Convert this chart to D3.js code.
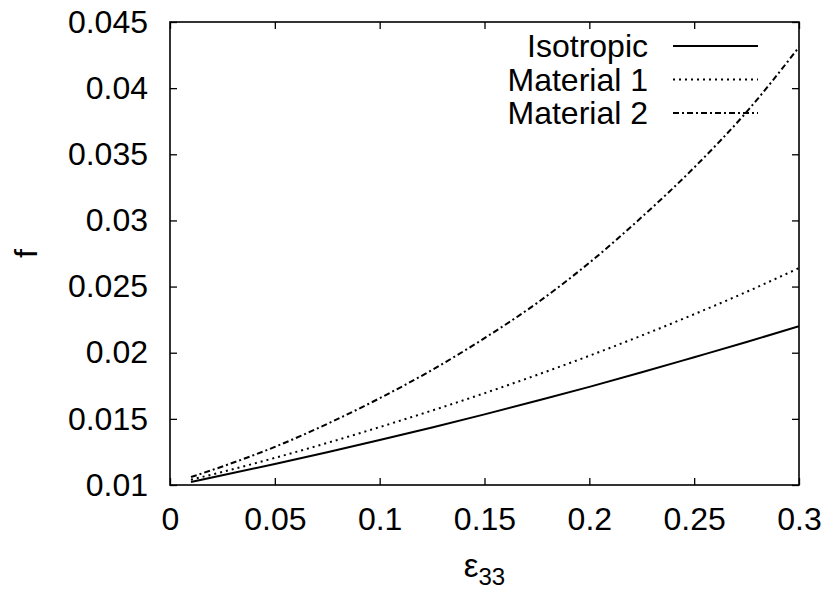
<!DOCTYPE html>
<html>
<head>
<meta charset="utf-8">
<script src="https://cdn.jsdelivr.net/npm/d3@7"></script>
<style>
  html, body { margin: 0; padding: 0; background: #fff; }
  svg { display: block; }
  text { font-family: "Liberation Sans", Arial, Helvetica, sans-serif; fill: #000; }
</style>
</head>
<body>
<svg id="chart" width="831" height="593"></svg>
<script>
// ---- data ----
const strain = [0.01, 0.025, 0.05, 0.075, 0.1, 0.125, 0.15, 0.175, 0.2, 0.225, 0.25, 0.275, 0.3];
const isotropic = [0.01023, 0.01073, 0.01159, 0.01248, 0.01340, 0.01435, 0.01534, 0.01637, 0.01742, 0.01852, 0.01966, 0.02081, 0.02200];
const material1 = [0.01040, 0.01099, 0.01205, 0.01318, 0.01438, 0.01563, 0.01694, 0.01832, 0.01977, 0.02130, 0.02291, 0.02460, 0.02640];
const material2 = [0.01060, 0.01140, 0.01288, 0.01462, 0.01656, 0.01870, 0.02110, 0.02375, 0.02680, 0.03025, 0.03400, 0.03820, 0.04310];
const seriesNames = ["Isotropic", "Material 1", "Material 2"];
const xTicks = [0, 0.05, 0.1, 0.15, 0.2, 0.25, 0.3];
const xTickLabels = ["0", "0.05", "0.1", "0.15", "0.2", "0.25", "0.3"];
const yTicks = [0.01, 0.015, 0.02, 0.025, 0.03, 0.035, 0.04, 0.045];
const yTickLabels = ["0.01", "0.015", "0.02", "0.025", "0.03", "0.035", "0.04", "0.045"];

// ---- layout ----
const svg = d3.select("#chart");
const L = 170, R = 799, T = 22, B = 485;
const x = d3.scaleLinear().domain([0, 0.3]).range([L, R]);
const y = d3.scaleLinear().domain([0.01, 0.045]).range([B, T]);
const FS = 32;

const series = [
  { name: seriesNames[0], values: isotropic, dash: null },
  { name: seriesNames[1], values: material1, dash: "2,4" },
  { name: seriesNames[2], values: material2, dash: "6,3,2,3" }
];

svg.append("defs").append("clipPath").attr("id", "clip")
  .append("rect").attr("x", L).attr("y", T).attr("width", R - L).attr("height", B - T);

// axes
const fmtX = d => xTickLabels[xTicks.indexOf(d)];
const fmtY = d => yTickLabels[yTicks.indexOf(d)];

const gB = svg.append("g").attr("transform", `translate(0,${B})`)
  .call(d3.axisBottom(x).tickValues(xTicks).tickFormat(fmtX).tickSizeInner(-7).tickSizeOuter(0).tickPadding(22));
const gT = svg.append("g").attr("transform", `translate(0,${T})`)
  .call(d3.axisTop(x).tickValues(xTicks).tickFormat("").tickSizeInner(-7).tickSizeOuter(0));
const gL = svg.append("g").attr("transform", `translate(${L},0)`)
  .call(d3.axisLeft(y).tickValues(yTicks).tickFormat(fmtY).tickSizeInner(-7).tickSizeOuter(0).tickPadding(22));
const gR = svg.append("g").attr("transform", `translate(${R},0)`)
  .call(d3.axisRight(y).tickValues(yTicks).tickFormat("").tickSizeInner(-7).tickSizeOuter(0));

[gB, gT, gL, gR].forEach(g => {
  g.select(".domain").remove();
  g.selectAll(".tick line").attr("stroke", "#000").attr("stroke-width", 1.3);
  g.selectAll("text").style("font-size", FS + "px").style("font-family", '"Liberation Sans", Arial, sans-serif').attr("fill", "#000");
});

// frame
svg.append("rect").attr("x", L).attr("y", T).attr("width", R - L).attr("height", B - T)
  .attr("fill", "none").attr("stroke", "#000").attr("stroke-width", 1.6);

// lines
const line = d3.line().x((d, i) => x(strain[i])).y(d => y(d)).curve(d3.curveMonotoneX);
series.forEach(s => {
  svg.append("path").datum(s.values)
    .attr("clip-path", "url(#clip)")
    .attr("d", line)
    .attr("fill", "none").attr("stroke", "#000").attr("stroke-width", 2)
    .attr("stroke-dasharray", s.dash);
});

// legend
const legY = [46, 79.5, 113];
series.forEach((s, i) => {
  svg.append("text").attr("x", 648).attr("y", legY[i]).attr("dy", "0.35em")
    .attr("text-anchor", "end").style("font-size", FS + "px").text(s.name);
  svg.append("line").attr("x1", 673).attr("x2", 758).attr("y1", legY[i]).attr("y2", legY[i])
    .attr("stroke", "#000").attr("stroke-width", 2).attr("stroke-dasharray", s.dash);
});

// axis titles
const xt = svg.append("text").attr("x", (L + R) / 2).attr("y", 577).attr("text-anchor", "middle")
  .style("font-size", "33px");
xt.append("tspan").text("ε");
xt.append("tspan").attr("dy", 8).style("font-size", "24px").text("33");

svg.append("text").attr("transform", `translate(37,${(T + B) / 2}) rotate(-90)`)
  .attr("text-anchor", "middle").style("font-size", FS + "px").text("f");
</script>
</body>
</html>
